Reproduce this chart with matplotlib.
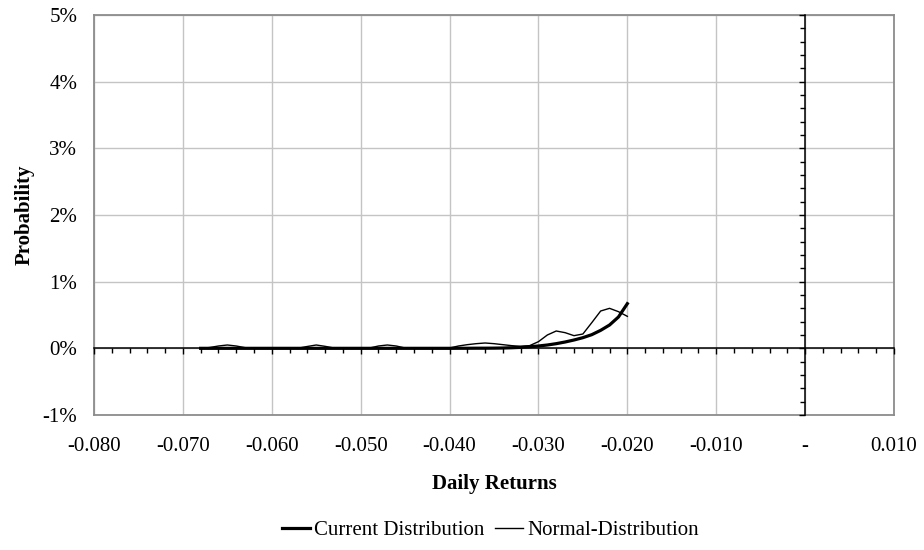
import numpy as np
import matplotlib.pyplot as plt
from matplotlib.ticker import MultipleLocator, FuncFormatter

# ====== data (probabilities in %) ======
returns = [-0.068, -0.067, -0.066, -0.065, -0.064, -0.063, -0.062, -0.061, -0.060,
           -0.059, -0.058, -0.057, -0.056, -0.055, -0.054, -0.053, -0.052, -0.051,
           -0.050, -0.049, -0.048, -0.047, -0.046, -0.045, -0.044, -0.043, -0.042,
           -0.041, -0.040, -0.039, -0.038, -0.037, -0.036, -0.035, -0.034, -0.033,
           -0.032, -0.031, -0.030, -0.029, -0.028, -0.027, -0.026, -0.025, -0.024,
           -0.023, -0.022, -0.021, -0.020]

current_pct = [0.0, 0.0, 0.0, 0.0, 0.0, 0.0, 0.0, 0.0, 0.0,
               0.0, 0.0, 0.0, 0.0, 0.0, 0.0, 0.0, 0.0, 0.0,
               0.0, 0.0, 0.0, 0.0, 0.0, 0.0, 0.0, 0.0, 0.0,
               0.0, 0.0, 0.001, 0.001, 0.002, 0.002, 0.003, 0.005, 0.009,
               0.015, 0.024, 0.035, 0.05, 0.07, 0.095, 0.125, 0.16, 0.205,
               0.27, 0.35, 0.47, 0.67]

normal_pct = [0.0, 0.012, 0.035, 0.05, 0.035, 0.01, 0.0, 0.0, 0.0,
              0.0, 0.0, 0.003, 0.028, 0.05, 0.03, 0.005, 0.0, 0.0,
              0.0, 0.005, 0.035, 0.05, 0.035, 0.005, 0.0, 0.0, 0.0,
              0.0, 0.005, 0.035, 0.055, 0.07, 0.08, 0.07, 0.055, 0.04,
              0.03, 0.04, 0.1, 0.2, 0.26, 0.235, 0.19, 0.215, 0.385,
              0.56, 0.60, 0.55, 0.48]

# ====== style ======
plt.rcParams["font.family"] = ["Liberation Serif", "DejaVu Serif"]
FS = 15
GRID_C = "#c4c4c4"
FRAME_C = "#8c8c8c"

W, H = 924, 550
fig = plt.figure(figsize=(W / 100, H / 100), dpi=100)
rect = [94 / W, (H - 415) / H, 800 / W, 400 / H]
ax = fig.add_axes(rect)

x = np.array(returns)
y_cur = np.array(current_pct) / 100.0
y_nor = np.array(normal_pct) / 100.0

XMIN, XMAX = -0.08, 0.01
YMIN, YMAX = -0.01, 0.05

ax.set_xlim(XMIN, XMAX)
ax.set_ylim(YMIN, YMAX)
ax.xaxis.set_major_locator(MultipleLocator(0.01))
ax.yaxis.set_major_locator(MultipleLocator(0.01))
ax.grid(True, which="major", color=GRID_C, linewidth=1.0)
ax.set_axisbelow(True)
for s in ax.spines.values():
    s.set_color(FRAME_C)
    s.set_linewidth(1.3)
ax.xaxis.set_major_formatter(FuncFormatter(lambda v, p: "-" if abs(v) < 1e-9 else f"{v:.3f}"))
ax.yaxis.set_major_formatter(FuncFormatter(lambda v, p: f"{v * 100:.0f}%"))

ax.plot(x, y_cur, color="black", linewidth=2.3, label="Current Distribution", zorder=4)
ax.plot(x, y_nor, color="black", linewidth=1.0, label="Normal-Distribution", zorder=5)

ax.set_xlabel("Daily Returns", fontsize=FS, fontweight="bold", labelpad=13)
ax.set_ylabel("Probability", fontsize=FS, fontweight="bold", labelpad=6)

# overlay axes: crossing axis lines at zero with Excel-style ticks
ax2 = fig.add_axes(rect, sharex=ax, sharey=ax)
ax2.patch.set_visible(False)
for side in ("top", "right"):
    ax2.spines[side].set_visible(False)
for side in ("bottom", "left"):
    ax2.spines[side].set_position(("data", 0))
    ax2.spines[side].set_color("black")
    ax2.spines[side].set_linewidth(1.1)
ax2.xaxis.set_minor_locator(MultipleLocator(0.002))
ax2.yaxis.set_minor_locator(MultipleLocator(0.002))
ax2.tick_params(which="both", direction="out", width=1.0, labelbottom=False, labelleft=False,
                colors="black")
ax2.tick_params(which="major", length=4.5)
ax2.tick_params(which="minor", length=3.6)
ax2.grid(False)
ax2.set_zorder(ax.get_zorder() + 1)

# base axes: labels only, no tick marks (locators are shared with overlay)
ax.tick_params(which="both", length=0, labelsize=FS)
ax.tick_params(axis="x", which="major", pad=16)
ax.tick_params(axis="y", which="major", pad=12)

handles, labels = ax.get_legend_handles_labels()
fig.legend(handles, labels, loc="center", bbox_to_anchor=(490 / W, (H - 530) / H), ncol=2,
           frameon=False, fontsize=FS, handlelength=1.35, handletextpad=0.2,
           columnspacing=0.5)

fig.savefig("out.png", dpi=100)
